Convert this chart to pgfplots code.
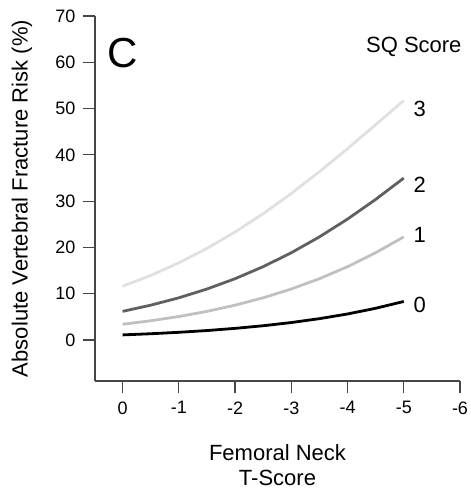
\documentclass[border=0pt]{standalone}
\usepackage{fontspec}
\setmainfont{Liberation Sans}
\usepackage{pgfplots}
\pgfplotsset{compat=1.18}
\usetikzlibrary{calc}
\definecolor{sq0}{RGB}{0,0,0}
\definecolor{sq1}{RGB}{192,192,192}
\definecolor{sq2}{RGB}{96,96,96}
\definecolor{sq3}{RGB}{224,224,224}
\definecolor{axcol}{RGB}{70,70,70}

% T-score vs absolute risk (%) for each SQ score
\pgfplotstableread{
t    sq0   sq1    sq2    sq3
0    1.10  3.39   6.18   11.61
-0.5 1.35  4.15   7.52   13.94
-1   1.66  5.07   9.11   16.66
-1.5 2.04  6.18   11.01  19.78
-2   2.51  7.52   13.24  23.33
-2.5 3.08  9.11   15.84  27.29
-3   3.77  11.01  18.85  31.65
-3.5 4.61  13.24  22.27  36.35
-4   5.62  15.84  26.12  41.34
-4.5 6.85  18.85  30.37  46.51
-5   8.32  22.27  34.98  51.75
}\riskdata

\begin{document}
\begin{tikzpicture}
\begin{axis}[
  scale only axis, width=365pt, height=365pt,
  x dir=reverse, xmin=-6, xmax=0.49,
  ymin=-8.86, ymax=70,
  axis x line=bottom, axis y line=left,
  axis line style={-, axcol, line width=1.1pt},
  tick style={axcol, line width=1.1pt},
  tick align=outside, major tick length=12pt,
  xtick={0,-1,-2,-3,-4,-5,-6},
  ytick={0,10,20,30,40,50,60,70},
  /pgf/number format/assume math mode=true,
  ticklabel style={font=\fontsize{18}{21}\selectfont},
  xticklabel style={yshift=-5pt},
  yticklabel style={xshift=-4pt},
  xlabel={Femoral Neck\\T-Score},
  ylabel={Absolute Vertebral Fracture Risk (\%)},
  xlabel style={at={(axis description cs:0.5,-0.23)}, anchor=center, align=center,
    font=\fontsize{22}{25}\selectfont},
  ylabel style={at={(axis description cs:-0.2,0.5)}, anchor=center,
    font=\fontsize{22}{26}\selectfont},
  clip=false,
]
\addplot[sq0, line width=2.8pt] table[x=t, y=sq0] {\riskdata};
\addplot[sq1, line width=2.8pt] table[x=t, y=sq1] {\riskdata};
\addplot[sq2, line width=2.8pt] table[x=t, y=sq2] {\riskdata};
\addplot[sq3, line width=2.8pt] table[x=t, y=sq3] {\riskdata};

\node[font=\fontsize{42}{50}\selectfont, anchor=center] at (axis cs:0,62) {C};
\node[font=\fontsize{22}{26}\selectfont, anchor=base east, inner sep=0pt] at (axis cs:-6.03,62.2) {SQ Score};
\node[font=\fontsize{22}{26}\selectfont, anchor=west, inner sep=0pt] at (axis cs:-5.17,50) {3};
\node[font=\fontsize{22}{26}\selectfont, anchor=west, inner sep=0pt] at (axis cs:-5.17,33.5) {2};
\node[font=\fontsize{22}{26}\selectfont, anchor=west, inner sep=0pt] at (axis cs:-5.17,22.7) {1};
\node[font=\fontsize{22}{26}\selectfont, anchor=west, inner sep=0pt] at (axis cs:-5.17,7.6) {0};
\end{axis}
\pgfresetboundingbox
\path[use as bounding box] ($(current axis.south west)+(-95pt,-108pt)$) rectangle ($(current axis.north east)+(10pt,16pt)$);
\end{tikzpicture}
\end{document}
